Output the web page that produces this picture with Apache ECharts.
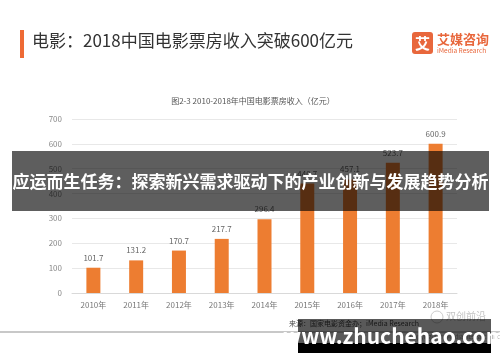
<!DOCTYPE html>
<html><head><meta charset="utf-8">
<script src="https://cdn.jsdelivr.net/npm/echarts@6/dist/echarts.min.js"></script>
<style>html,body{margin:0;padding:0;background:#fff}#c{width:500px;height:362px}</style>
</head><body><div id="c"></div>
<script>
var categories = ['2010年','2011年','2012年','2013年','2014年','2015年','2016年','2017年','2018年'];
var revenue = [101.7, 131.2, 170.7, 217.7, 296.4, 440.7, 457.1, 523.7, 600.9];
var yTicks = [0, 100, 200, 300, 400, 500, 600, 700];

var F = '"Noto Sans CJK SC", "Noto Sans", sans-serif';
var chart = echarts.init(document.getElementById('c'), null, {renderer:'canvas'});
chart.setOption({
  backgroundColor:'#fff',
  animation:false,
  textStyle:{fontFamily:F},
  grid:{left:72, right:43, top:119, bottom:69},
  xAxis:{type:'category', data:categories,
    axisLine:{lineStyle:{color:'#d9d9d9'}}, axisTick:{show:false},
    axisLabel:{color:'#777', fontSize:8, margin:8, fontFamily:F}},
  yAxis:{type:'value', min:yTicks[0], max:yTicks[yTicks.length-1], interval:100,
    axisLine:{show:false}, axisTick:{show:false},
    splitLine:{lineStyle:{color:'#e8e8e8'}},
    axisLabel:{color:'#888', fontSize:8, margin:10, fontFamily:F}},
  series:[{type:'bar', data:revenue, barWidth:14,
    itemStyle:{color:'#ED7D31'},
    label:{show:true, position:'top', color:'#666', fontSize:8, distance:6, fontFamily:F}}],
  graphic:[
    {type:'rect', z:10, shape:{x:20,y:30,width:4,height:28}, style:{fill:'#EE6A35'}},
    {type:'text', z:10, left:32, top:32, style:{text:'电影：2018中国电影票房收入突破600亿元', fill:'#333', font:'17px '+F}},
    {type:'rect', z:10, shape:{x:412,y:32,width:21,height:22,r:3}, style:{fill:'#E8673C'}},
    {type:'text', z:11, x:422.5, y:43, style:{text:'艾', fill:'#fff', font:'bold 15px '+F, textAlign:'center', textVerticalAlign:'middle'}},
    {type:'text', z:10, x:437, y:39, style:{text:'艾媒咨询', fill:'#E8673C', font:'bold 13px '+F, textVerticalAlign:'middle'}},
    {type:'text', z:10, x:437, y:51, style:{text:'iMedia Research', fill:'#E8673C', font:'6.5px '+F, textVerticalAlign:'middle'}},
    {type:'text', z:10, x:253, y:101, style:{text:'图2-3 2010-2018年中国电影票房收入（亿元）', fill:'#555', font:'8px '+F, textAlign:'center', textVerticalAlign:'middle'}},
    {type:'text', z:10, x:289, y:323, style:{text:'来源：国家电影资金办；iMedia Research', fill:'#444', font:'7px '+F, textVerticalAlign:'middle'}},
    {type:'text', z:10, x:500, y:337, style:{text:'Copyright © iMedia Research Inc', fill:'#999', font:'6px '+F, textAlign:'right', textVerticalAlign:'middle'}},
    {type:'rect', z:10, shape:{x:0,y:331,width:500,height:2}, style:{fill:'#c8c8c8'}},
    {type:'circle', z:10, shape:{cx:437,cy:317,r:6}, style:{fill:'none', stroke:'#ccc', lineWidth:1}},
    {type:'text', z:10, x:446, y:316, style:{text:'双创前沿', fill:'#c4c4c4', font:'10px '+F, textVerticalAlign:'middle'}},
    {type:'rect', z:50, shape:{x:12,y:151,width:477,height:60}, style:{fill:'rgba(0,0,0,0.63)'}},
    {type:'text', z:51, x:250.5, y:182, style:{text:'应运而生任务：探索新兴需求驱动下的产业创新与发展趋势分析', fill:'#fff', font:'bold 17px '+F, textAlign:'center', textVerticalAlign:'middle'}},
    {type:'rect', z:50, shape:{x:298,y:319,width:193,height:24}, style:{fill:'rgba(0,0,0,0.65)'}},
    {type:'rect', z:50, shape:{x:298,y:343,width:193,height:10}, style:{fill:'#000'}},
    {type:'text', z:51, x:394.5, y:336, style:{text:'www.zhuchehao.com', fill:'#fff', font:'bold 21px '+F, textAlign:'center', textVerticalAlign:'middle'}}
  ]
});
</script></body></html>
